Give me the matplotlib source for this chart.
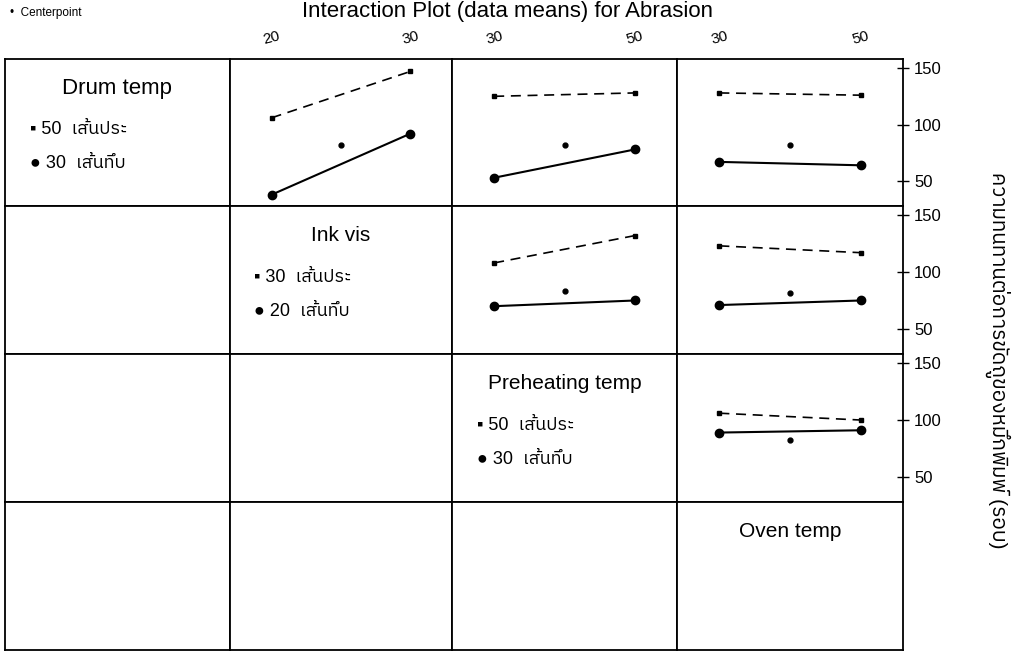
import matplotlib
matplotlib.use("Agg")
import matplotlib.pyplot as plt
from matplotlib import font_manager

# pick a font that has Thai glyphs, if one is installed
thai = [f.name for f in font_manager.fontManager.ttflist
        if "Thai" in f.name or f.name in ("Loma", "Garuda", "Norasi", "Kinnari", "Sarabun", "Tahoma")]
fams = ["Liberation Sans"] + sorted(set(thai)) + ["DejaVu Sans"]
plt.rcParams["font.family"] = fams

# factors (diagonal) and their levels
factor_names = ["Drum temp", "Ink vis", "Preheating temp", "Oven temp"]
factor_low = [30, 20, 30, 30]
factor_high = [50, 30, 50, 50]

# cell means: rows = trace factor, one pair [at x low, at x high] per column to the right
drum50 = [[106, 147], [125, 128], [128, 126]]
drum30 = [[38, 92], [53, 78], [67, 64]]
ink30 = [[108, 132], [123, 117]]
ink20 = [[70, 75], [71, 75]]
pre50 = [[106, 100]]
pre30 = [[89, 91]]

dashed_means = [drum50, ink30, pre50]
solid_means = [drum30, ink20, pre30]
center_vals = [[82, 82, 82], [83, 82], [82.5]]

yticks = [50, 100, 150]
ylabel = "ความทนทานต่อการขัดถูของหมึกพิมพ์ (รอบ)"

W, H = 1014, 651
fig = plt.figure(figsize=(W / 100, H / 100), dpi=100)
xs = [5, 230, 452, 677, 903]
ys = [59, 206, 354, 502, 650]


def rect(x0, y0, x1, y1):
    return [x0 / W, 1 - y1 / H, (x1 - x0) / W, (y1 - y0) / H]


legend_text = {0: ("50", "30"), 1: ("30", "20"), 2: ("50", "30")}

for r in range(4):
    for c in range(4):
        ax = fig.add_axes(rect(xs[c], ys[r], xs[c + 1], ys[r + 1]))
        for s in ax.spines.values():
            s.set_linewidth(1.3)
            s.set_color("black")
        ax.set_xticks([])
        ax.set_yticks([])
        lo, hi = factor_low[c], factor_high[c]
        pad = (hi - lo) * 0.3
        ax.set_xlim(lo - pad, hi + pad)
        ax.set_ylim(28, 158)
        if r == c:
            ax.text(0.5, 0.80, factor_names[r], transform=ax.transAxes,
                    ha="center", va="center", fontsize=16 if r == 0 else 15)
            if r < 3:
                hi_lab, lo_lab = legend_text[r]
                ax.text(0.11, 0.52, "▪ " + hi_lab + "  เส้นประ", transform=ax.transAxes,
                        ha="left", va="center", fontsize=13)
                ax.text(0.11, 0.29, "● " + lo_lab + "  เส้นทึบ", transform=ax.transAxes,
                        ha="left", va="center", fontsize=13)
        elif c > r:
            k = c - r - 1
            xv = [lo, hi]
            ax.plot(xv, dashed_means[r][k], color="black", lw=1.2, ls=(0, (6, 4)),
                    marker="s", ms=3)
            ax.plot(xv, solid_means[r][k], color="black", lw=1.5, marker="o", ms=6)
            ax.plot([(lo + hi) / 2], [center_vals[r][k]], "o", color="black", ms=3.5)
        if r == 0 and c > 0:
            ax.xaxis.tick_top()
            ax.set_xticks([lo, hi])
            ax.set_xticklabels([str(lo), str(hi)], rotation=15, fontsize=11)
            ax.tick_params(axis="x", length=0, pad=9)
        if c == 3 and r < 3:
            ax.yaxis.tick_right()
            ax.set_yticks(yticks)
            ax.tick_params(axis="y", direction="inout", length=8, width=1, labelsize=12, pad=4)

fig.text(0.5, 1 - 1 / H, "Interaction Plot (data means) for Abrasion",
         ha="center", va="top", fontsize=16)
fig.text(10 / W, 1 - 13 / H, "•  Centerpoint", ha="left", va="center", fontsize=8.5)
fig.text(998 / W, 1 - 360 / H, ylabel, rotation=270, ha="center", va="center", fontsize=15)

fig.savefig("out.png", dpi=100)
